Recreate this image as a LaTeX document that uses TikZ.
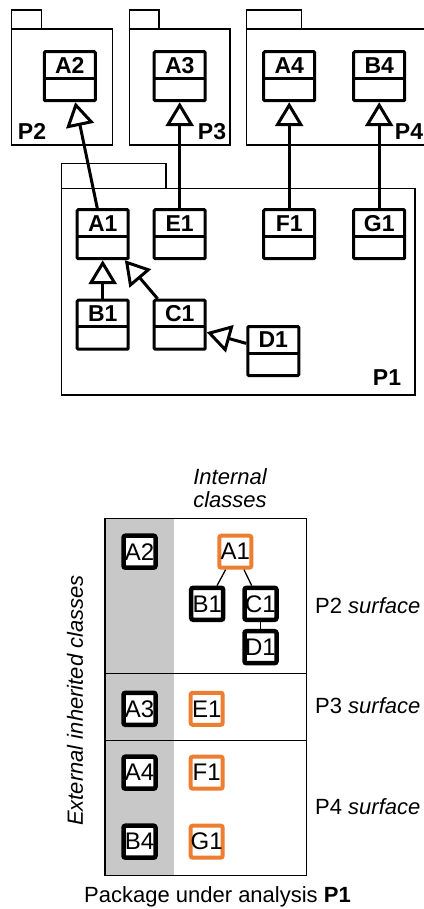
\documentclass[tikz,border=0pt]{standalone}
\usepackage{fontspec}
\setmainfont{Liberation Sans}
\usetikzlibrary{arrows.meta}
\definecolor{surforange}{RGB}{237,125,49}
\definecolor{extgray}{RGB}{200,200,200}

\begin{document}
\begin{tikzpicture}[x=1pt,y=-1pt,
  every node/.style={inner sep=0pt, font=\fontsize{22}{23}\selectfont},
  cls/.style={draw, line width=3pt, rounded corners=1pt, minimum width=51pt, minimum height=49pt,
    label={[font=\fontsize{23}{23}\bfseries\selectfont, yshift=11pt]center:#1},
    path picture={\draw[line width=3pt] ([yshift=-26.5pt]path picture bounding box.north west) -- ([yshift=-26.5pt]path picture bounding box.north east);}},
  gen/.style={line width=3pt, -{Triangle[open, length=24pt, width=28pt]}},
  pkg/.style={line width=1.3pt},
  pname/.style={font=\fontsize{23}{23}\bfseries\selectfont},
  sbox/.style={draw, line width=4.5pt, rounded corners=2pt, minimum size=32pt, fill=white,
    font=\fontsize{24}{24}\selectfont},
  obox/.style={sbox, draw=surforange, line width=4pt},
  link/.style={line width=1.3pt}]
\useasboundingbox (0,0) rectangle (423,909);

% packages
\draw[pkg] (11.7,10) rectangle (41.7,29);
\draw[pkg] (11.7,29) rectangle (112.3,145);
\draw[pkg] (129.3,10) rectangle (159,29);
\draw[pkg] (129.3,29) rectangle (230,145);
\draw[pkg] (246.7,10) rectangle (301.7,29);
\draw[pkg] (246.7,29) rectangle (440,145);
\draw[pkg] (61.7,163.3) rectangle (166,188.3);
\draw[pkg] (61.7,188.3) rectangle (415,395);

\node[pname] (p2) at (32,131.7) {P2};
\node[pname] (p3) at (212,131.7) {P3};
\node[pname] (p4) at (409,131.7) {P4};
\node[pname] (p1) at (387,378) {P1};

% classes
\node[cls=A2] (a2) at (69.8,76.2) {};
\node[cls=A3] (a3) at (179.7,76.2) {};
\node[cls=A4] (a4) at (289.2,76.2) {};
\node[cls=B4] (b4) at (379.2,76.2) {};

\node[cls=A1] (a1) at (102.7,234.2) {};
\node[cls=E1] (e1) at (179.7,234.2) {};
\node[cls=F1] (f1) at (289.2,234.2) {};
\node[cls=G1] (g1) at (379.2,234.2) {};
\node[cls=B1] (b1) at (102.7,324.7) {};
\node[cls=C1] (c1) at (179.7,324.7) {};
\node[cls=D1] (d1) at (273.3,351) {};

\draw[gen] (a1) -- (a2);
\draw[gen] (e1) -- (a3);
\draw[gen] (f1) -- (a4);
\draw[gen] (g1) -- (b4);
\draw[gen] (b1) -- (a1);
\draw[gen] (c1) -- (a1);
\draw[gen] (d1) -- (c1);

% surfaces
\fill[extgray] (105,518.3) rectangle (174,875.7);
\draw[line width=1.2pt] (105,518.3) rectangle (306.7,875.7);
\draw[line width=1.2pt] (105,673.5) -- (306.7,673.5);
\draw[line width=1.2pt] (105,740.7) -- (306.7,740.7);

\node[font=\fontsize{22}{23}\itshape\selectfont, align=center] (inner) at (230,488) {Internal\\classes};
\node[font=\fontsize{22}{23}\itshape\selectfont, rotate=90] (outer) at (75,700.5) {External inherited classes};

\node[sbox] (sa2) at (139.5,551.7) {A2};
\node[obox] (sa1) at (235.3,551.7) {A1};
\node[sbox] (sb1) at (207.2,603.8) {B1};
\node[sbox] (sc1) at (260.5,603.8) {C1};
\node[sbox] (sd1) at (260.5,647.2) {D1};
\node[sbox] (sa3) at (139.5,708.8) {A3};
\node[obox] (se1) at (206.7,708.8) {E1};
\node[sbox] (sa4) at (139.5,772.7) {A4};
\node[obox] (sf1) at (206.7,772.7) {F1};
\node[sbox] (sb4) at (139.5,841.7) {B4};
\node[obox] (sg1) at (206.7,841.7) {G1};

\draw[link] (sa1) -- (sb1);
\draw[link] (sa1) -- (sc1);
\draw[link] (sc1) -- (sd1);

\node[anchor=west] (s2) at (315,606) {P2 \textit{surface}};
\node[anchor=west] (s3) at (315,706) {P3 \textit{surface}};
\node[anchor=west] (s4) at (315,806.7) {P4 \textit{surface}};

\node[anchor=base west] (under) at (84,902) {Package under analysis \textbf{P1}};
\end{tikzpicture}
\end{document}
